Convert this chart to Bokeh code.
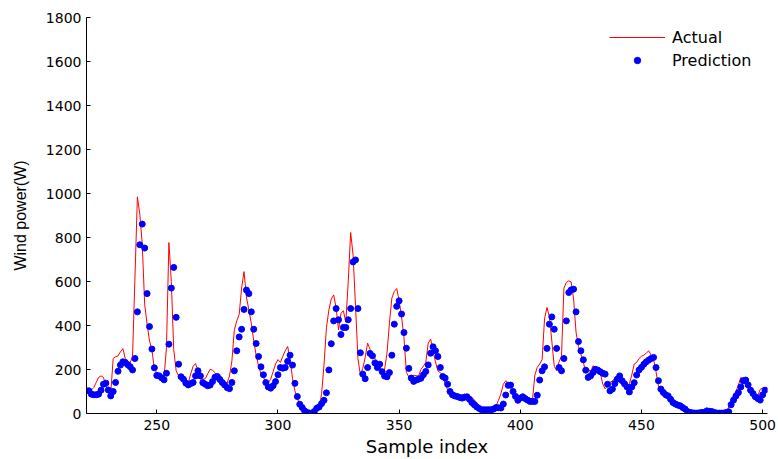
from bokeh.plotting import figure
from bokeh.models import Legend, LegendItem, Range1d, FixedTicker
from bokeh.embed import file_html
from bokeh.resources import INLINE

# ---- data ----
sample_index = list(range(221, 502))

actual = [
    108, 103, 106, 118, 141, 164, 171, 164, 126, 103,   # 221-230
    90, 250, 258, 262, 280, 295, 250, 238, 230, 260,    # 231-240
    620, 985, 906, 770, 497, 406, 330, 290, 200, 186,   # 241-250
    179, 170, 164, 300, 777, 600, 290, 194, 171, 156,   # 251-260
    148, 141, 141, 180, 215, 227, 195, 156, 156, 158,   # 261-270
    180, 201, 197, 185, 171, 156, 150, 145, 138, 170,   # 271-280
    240, 380, 421, 450, 570, 645, 530, 470, 410, 330,   # 281-290
    265, 215, 180, 164, 145, 140, 156, 190, 225, 245,   # 291-300
    232, 260, 285, 305, 245, 160, 103, 65, 48, 30,      # 301-310
    18, 8, 3, 2, 3, 12, 22, 90, 220, 390,               # 311-320
    470, 520, 539, 480, 380, 455, 467, 415, 600, 823,   # 321-330
    720, 490, 250, 176, 205, 255, 320, 292, 270, 250,   # 331-340
    239, 217, 190, 200, 275, 410, 525, 555, 568, 512,   # 341-350
    440, 345, 186, 167, 170, 174, 172, 171, 200, 215,   # 351-360
    232, 320, 338, 285, 235, 194, 185, 175, 135, 108,   # 361-370
    96, 90, 85, 82, 80, 84, 88, 82, 76, 73,             # 371-380
    62, 50, 38, 28, 24, 20, 20, 20, 25, 35,             # 381-390
    60, 90, 133, 149, 140, 118, 92, 76, 72, 70,         # 391-400
    68, 66, 64, 60, 58, 175, 210, 225, 245, 430,        # 401-410
    482, 440, 330, 215, 194, 235, 262, 570, 596, 603,   # 411-420
    598, 520, 370, 305, 270, 235, 185, 205, 188, 217,   # 421-430
    209, 201, 185, 135, 112, 125, 141, 148, 160, 170,   # 431-440
    178, 152, 130, 111, 135, 175, 225, 232, 250, 260,   # 441-450
    265, 275, 285, 265, 245, 190, 125, 110, 98, 85,     # 451-460
    70, 57, 50, 43, 38, 32, 25, 18, 12, 6,              # 461-470
    4, 2, 0, 0, 2, 5, 8, 8, 5, 3,                       # 471-480
    2, 2, 3, 4, 5, 30, 60, 82, 100, 130,                # 481-490
    164, 155, 150, 130, 110, 90, 60, 80, 110, 116, 118, # 491-501
]

prediction = [
    103, 103, 88, 85, 85, 88, 106, 133, 138, 107,       # 221-230
    80, 100, 141, 192, 220, 235, 232, 222, 213, 198,    # 231-240
    250, 462, 767, 861, 752, 545, 395, 293, 208, 173,   # 241-250
    171, 162, 153, 183, 315, 570, 664, 437, 224, 167,   # 251-260
    156, 138, 130, 136, 141, 171, 194, 171, 140, 133,   # 261-270
    126, 129, 145, 165, 168, 155, 141, 130, 118, 113,   # 271-280
    141, 194, 285, 348, 383, 473, 561, 545, 462, 383,   # 281-290
    318, 259, 212, 176, 141, 121, 115, 126, 145, 176,   # 291-300
    209, 206, 209, 237, 265, 220, 137, 77, 42, 27,      # 301-310
    12, 5, 2, 2, 9, 24, 30, 45, 60, 94,                 # 311-320
    198, 317, 421, 477, 426, 359, 391, 391, 426, 477,   # 321-330
    689, 698, 477, 276, 179, 158, 209, 273, 262, 230,   # 331-340
    209, 224, 190, 170, 167, 186, 265, 406, 487, 512,   # 341-350
    452, 368, 297, 205, 161, 146, 152, 156, 160, 176,   # 351-360
    191, 221, 274, 303, 285, 259, 209, 168, 161, 133,   # 361-370
    100, 85, 80, 77, 73, 70, 74, 76, 65, 50,            # 371-380
    40, 30, 23, 17, 17, 17, 17, 17, 20, 27,             # 381-390
    26, 25, 43, 84, 128, 129, 100, 78, 60, 70,          # 391-400
    76, 68, 61, 55, 55, 55, 83, 152, 194, 212,          # 401-410
    296, 406, 439, 383, 296, 209, 194, 250, 421, 550,   # 411-420
    562, 565, 462, 327, 285, 244, 197, 164, 171, 186,   # 421-430
    201, 197, 190, 183, 179, 133, 103, 111, 136, 156,   # 431-440
    171, 149, 135, 121, 98, 121, 140, 175, 198, 210,    # 441-450
    224, 235, 243, 250, 255, 209, 149, 111, 96, 85,     # 451-460
    80, 65, 50, 43, 38, 35, 27, 20, 9, 5,               # 461-470
    3, 2, 2, 3, 5, 5, 12, 10, 9, 5,                     # 471-480
    2, 2, 2, 2, 5, 8, 40, 61, 80, 95,                   # 481-490
    121, 149, 152, 130, 106, 91, 76, 68, 61, 85, 106,   # 491-501
]

x_ticks = [250, 300, 350, 400, 450, 500]
y_ticks = [0, 200, 400, 600, 800, 1000, 1200, 1400, 1600, 1800]

assert len(actual) == len(sample_index) == len(prediction)

p = figure(width=778, height=459, output_backend="svg", toolbar_location=None,
           x_range=Range1d(221, 502), y_range=Range1d(0, 1800),
           min_border_left=86, min_border_right=11, min_border_top=17,
           min_border_bottom=46)
p.outline_line_color = None
p.grid.visible = False
p.background_fill_color = "white"
p.border_fill_color = "white"

p.xaxis.ticker = FixedTicker(ticks=x_ticks)
p.yaxis.ticker = FixedTicker(ticks=y_ticks)
for ax in (p.xaxis, p.yaxis):
    ax.major_tick_in = 4
    ax.major_tick_out = 0
    ax.minor_tick_in = 0
    ax.minor_tick_out = 0
    ax.axis_line_color = "black"
    ax.major_tick_line_color = "black"
    ax.major_label_text_font = "DejaVu Sans"
    ax.major_label_text_font_size = "14px"
    ax.major_label_text_color = "black"
    ax.axis_label_text_font_style = "normal"
    ax.axis_label_text_color = "black"
p.xaxis.major_label_standoff = 6
p.yaxis.major_label_standoff = 5

p.xaxis.axis_label = "Sample index"
p.xaxis.axis_label_text_font = "DejaVu Sans"
p.xaxis.axis_label_text_font_size = "18px"
p.xaxis.axis_label_standoff = 3

p.yaxis.axis_label = "Wind power(W)"
p.yaxis.axis_label_text_font = "Liberation Sans"
p.yaxis.axis_label_text_font_size = "16px"
p.yaxis.axis_label_standoff = 14

r_line = p.line(sample_index, actual, line_color="#ff0000", line_width=1)
r_dots = p.scatter(sample_index, prediction, marker="circle", size=6,
                   fill_color="#0000ff", line_color="#0000ff")

legend = Legend(items=[LegendItem(label="Actual", renderers=[r_line]),
                       LegendItem(label="Prediction", renderers=[r_dots])],
                location=(523, 343), padding=0, margin=0, spacing=3,
                glyph_width=56, glyph_height=16, label_height=20,
                label_standoff=7, label_text_font="DejaVu Sans",
                label_text_font_size="16px", label_text_color="black",
                border_line_alpha=0, background_fill_alpha=0)
p.add_layout(legend)

open("out.html", "w").write(file_html(p, INLINE))
